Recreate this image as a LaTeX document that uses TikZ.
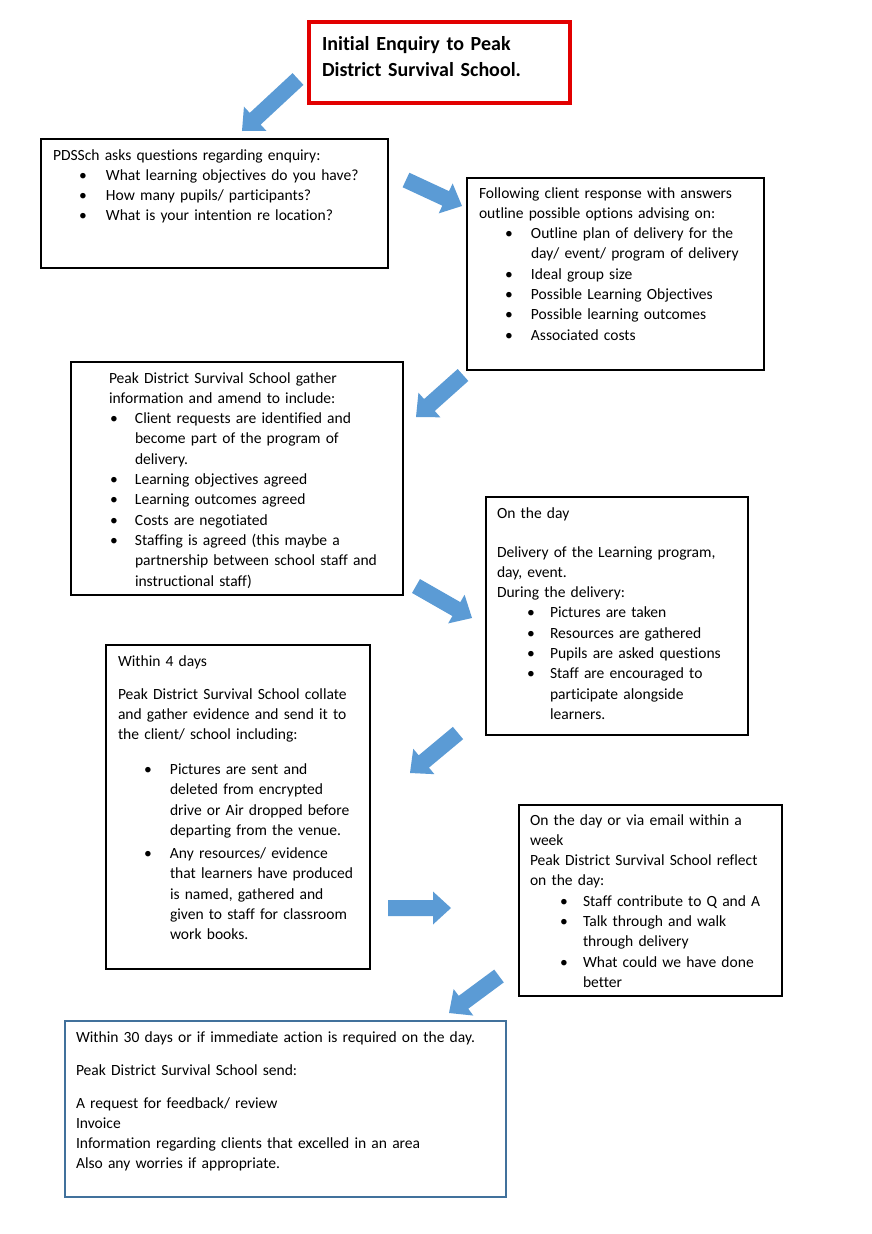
\documentclass[tikz,border=0pt]{standalone}
\usepackage{fontspec}
\setmainfont{Carlito}[Ligatures=NoCommon]
\usetikzlibrary{calc}
\definecolor{arrowblue}{RGB}{91,155,213}
\definecolor{boxblue}{RGB}{65,113,156}
\definecolor{boxred}{RGB}{226,0,0}
\tikzset{
  x=1pt, y=-1pt,
  bx/.style={draw=black, line width=1.3pt, inner sep=0pt, outer sep=0pt, anchor=north west},
  tx/.style={inner sep=0pt, outer sep=0pt, anchor=base west, align=left, text width=430pt,
    font=\fontsize{15.55}{20.3}\selectfont},
}
% bullet line: #1 bullet offset, #2 text offset, #3 text
\newcommand\itm[3]{\hspace*{#1}\makebox[\dimexpr#2-#1\relax][l]{\textbullet}#3}
\newcommand\cnt[2]{\hspace*{#1}#2}
% block arrow: #1 tail coordinate name, #2 tip coordinate name
\newcommand\blockarrow[2]{%
  \coordinate (#1h) at ($(#2)!18pt!(#1)$);
  \fill[arrowblue] ($(#1)!8pt!90:(#2)$) -- ($(#1h)!8pt!90:(#2)$) -- ($(#1h)!16.5pt!90:(#2)$)
    -- (#2) -- ($(#1h)!16.5pt!-90:(#2)$) -- ($(#1h)!8pt!-90:(#2)$) -- ($(#1)!8pt!-90:(#2)$) -- cycle;}
\begin{document}
\begin{tikzpicture}
\useasboundingbox[fill=white] (0,0) rectangle (871,1234);

% boxes
\node[bx, draw=boxred, line width=3.2pt, minimum width=261pt, minimum height=81pt] (b1) at (309,22) {};
\node[bx, minimum width=347pt, minimum height=129pt] (b2) at (41,139) {};
\node[bx, minimum width=297pt, minimum height=192pt] (b3) at (467,178) {};
\node[bx, minimum width=332pt, minimum height=233pt] (b4) at (71,362) {};
\node[bx, minimum width=262pt, minimum height=238pt] (b5) at (486,497) {};
\node[bx, minimum width=264pt, minimum height=324pt] (b6) at (106,645) {};
\node[bx, minimum width=263pt, minimum height=191pt] (b7) at (519,805) {};
\node[bx, draw=boxblue, line width=1.6pt, minimum width=441pt, minimum height=176pt] (b8) at (65,1021) {};

% texts
\node[tx, font=\fontsize{20}{26}\selectfont\bfseries] (t1) at (322,50)
  {Initial Enquiry to Peak\\District Survival School.};

\node[tx] (t2) at (53,160) {PDSSch asks questions regarding enquiry:\\
\itm{26pt}{53pt}{What learning objectives do you have?}\\
\itm{26pt}{53pt}{How many pupils/ participants?}\\
\itm{26pt}{53pt}{What is your intention re location?}};

\node[tx] (t3) at (479,198) {Following client response with answers\\
outline possible options advising on:\\
\itm{26pt}{52pt}{Outline plan of delivery for the}\\
\cnt{52pt}{day/ event/ program of delivery}\\
\itm{26pt}{52pt}{Ideal group size}\\
\itm{26pt}{52pt}{Possible Learning Objectives}\\
\itm{26pt}{52pt}{Possible learning outcomes}\\
\itm{26pt}{52pt}{Associated costs}};

\node[tx] (t4) at (109,383) {Peak District Survival School gather\\
information and amend to include:\\
\itm{1pt}{26pt}{Client requests are identified and}\\
\cnt{26pt}{become part of the program of}\\
\cnt{26pt}{delivery.}\\
\itm{1pt}{26pt}{Learning objectives agreed}\\
\itm{1pt}{26pt}{Learning outcomes agreed}\\
\itm{1pt}{26pt}{Costs are negotiated}\\
\itm{1pt}{26pt}{Staffing is agreed (this maybe a}\\
\cnt{26pt}{partnership between school staff and}\\
\cnt{26pt}{instructional staff)}};

\node[tx] (t5) at (497,518) {On the day\\[18.7pt]
Delivery of the Learning program,\\
day, event.\\
During the delivery:\\
\itm{30pt}{53pt}{Pictures are taken}\\
\itm{30pt}{53pt}{Resources are gathered}\\
\itm{30pt}{53pt}{Pupils are asked questions}\\
\itm{30pt}{53pt}{Staff are encouraged to}\\
\cnt{53pt}{participate alongside}\\
\cnt{53pt}{learners.}};

\node[tx] (t6) at (118,666) {Within 4 days\\[12.7pt]
Peak District Survival School collate\\
and gather evidence and send it to\\
the client/ school including:\\[14.7pt]
\itm{26pt}{52pt}{Pictures are sent and}\\
\cnt{52pt}{deleted from encrypted}\\
\cnt{52pt}{drive or Air dropped before}\\
\cnt{52pt}{departing from the venue.}\\[2.7pt]
\itm{26pt}{52pt}{Any resources/ evidence}\\
\cnt{52pt}{that learners have produced}\\
\cnt{52pt}{is named, gathered and}\\
\cnt{52pt}{given to staff for classroom}\\
\cnt{52pt}{work books.}};

\node[tx] (t7) at (530,825) {On the day or via email within a\\
week\\
Peak District Survival School reflect\\
on the day:\\
\itm{30pt}{53pt}{Staff contribute to Q and A}\\
\itm{30pt}{53pt}{Talk through and walk}\\
\cnt{53pt}{through delivery}\\
\itm{30pt}{53pt}{What could we have done}\\
\cnt{53pt}{better}};

\node[tx] (t8) at (76,1042) {Within 30 days or if immediate action is required on the day.\\[12.7pt]
Peak District Survival School send:\\[12.7pt]
A request for feedback/ review\\
Invoice\\
Information regarding clients that excelled in an area\\
Also any worries if appropriate.};

% arrows
\coordinate (a1) at (298,79);  \coordinate (a1t) at (242,131);
\coordinate (a2) at (406,180); \coordinate (a2t) at (462,206);
\coordinate (a3) at (463,375); \coordinate (a3t) at (416,417);
\coordinate (a4) at (416,586); \coordinate (a4t) at (472,618);
\coordinate (a5) at (458,733); \coordinate (a5t) at (410,773);
\coordinate (a6) at (388,908); \coordinate (a6t) at (451,908);
\coordinate (a7) at (499,976); \coordinate (a7t) at (449,1013);
\blockarrow{a1}{a1t}
\blockarrow{a2}{a2t}
\blockarrow{a3}{a3t}
\blockarrow{a4}{a4t}
\blockarrow{a5}{a5t}
\blockarrow{a6}{a6t}
\blockarrow{a7}{a7t}
\end{tikzpicture}
\end{document}
